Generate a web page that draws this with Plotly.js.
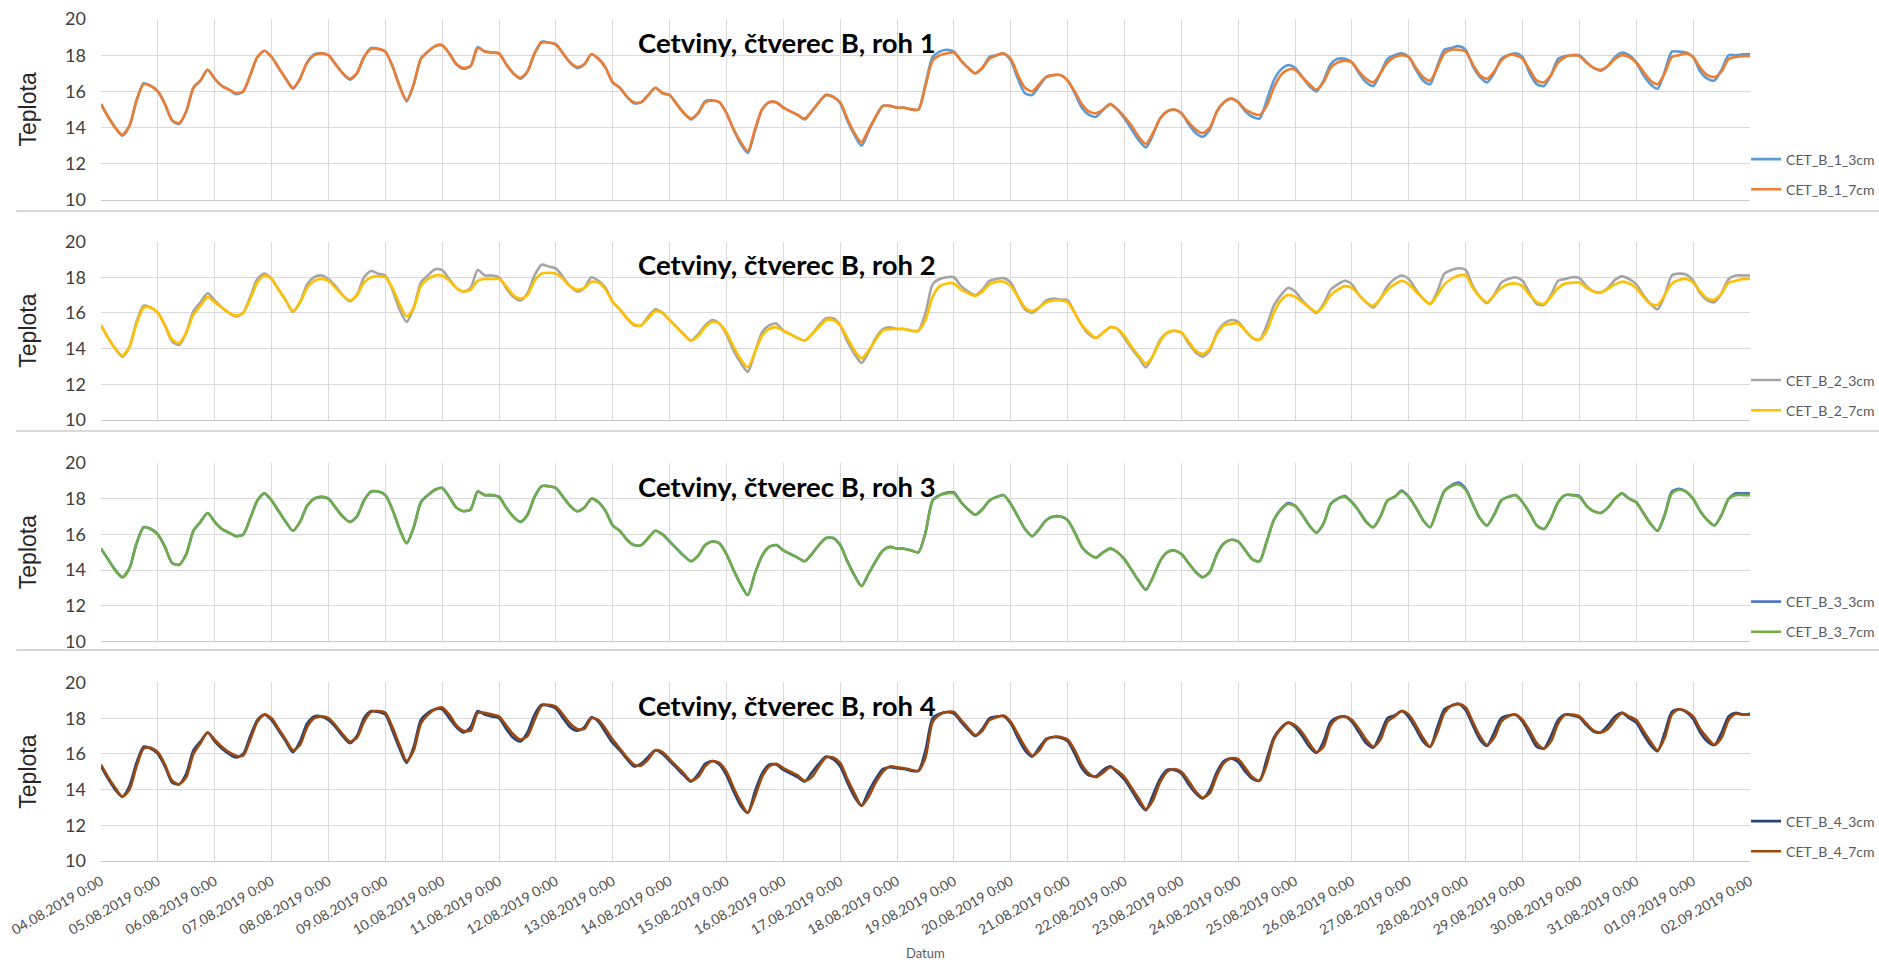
<!DOCTYPE html>
<html><head><meta charset="utf-8">
<script src="https://cdn.plot.ly/plotly-3.0.1.min.js"></script>
<style>html,body{margin:0;padding:0;background:#fff}#chart{width:1879px;height:963px}</style>
</head><body><div id="chart"></div>
<script>
// ---- data: 3-hourly readings from 04.08.2019 0:00 to 02.09.2019 0:00 ----
const startDate = Date.UTC(2019, 7, 4, 0, 0);
const stepHours = 3;
const dayCount = 29;

const panelTitles = ["Cetviny, čtverec B, roh 1", "Cetviny, čtverec B, roh 2", "Cetviny, čtverec B, roh 3", "Cetviny, čtverec B, roh 4"];
const seriesNames = [["CET_B_1_3cm", "CET_B_1_7cm"], ["CET_B_2_3cm", "CET_B_2_7cm"], ["CET_B_3_3cm", "CET_B_3_7cm"], ["CET_B_4_3cm", "CET_B_4_7cm"]];
const seriesColors = [["#5B9BD5", "#ED7D31"], ["#A5A5A5", "#FFC000"], ["#4472C4", "#70AD47"], ["#264478", "#9E480E"]];
const yAxisTitle = "Teplota";
const xAxisTitle = "Datum";

const b1_3cm = [
15.3,14.6,14.0,13.55,14.1,15.5,16.45,16.3,
16.0,15.3,14.4,14.2,14.9,16.2,16.6,17.2,
16.7,16.3,16.1,15.85,16.0,16.9,17.9,18.25,
17.9,17.3,16.7,16.15,16.7,17.6,18.05,18.1,
18.0,17.5,17.0,16.65,17.0,17.9,18.4,18.35,
18.2,17.4,16.3,15.45,16.4,17.8,18.2,18.5,
18.55,18.1,17.5,17.25,17.4,18.45,18.2,18.15,
18.1,17.5,17.0,16.7,17.1,18.1,18.75,18.7,
18.6,18.1,17.6,17.3,17.5,18.05,17.8,17.3,
16.5,16.2,15.7,15.35,15.4,15.8,16.2,15.9,
15.8,15.3,14.8,14.45,14.8,15.45,15.5,15.4,
14.8,13.9,13.1,12.6,13.8,15.0,15.4,15.4,
15.1,14.9,14.7,14.45,14.9,15.4,15.8,15.7,
15.35,14.4,13.6,13.0,13.8,14.6,15.2,15.2,
15.1,15.1,15.0,15.0,16.4,17.9,18.2,18.3,
18.2,17.7,17.3,17.0,17.3,17.9,18.0,18.1,
17.7,16.7,15.9,15.8,16.3,16.8,16.9,16.9,
16.6,15.9,15.1,14.7,14.6,15.0,15.3,15.0,
14.5,13.9,13.3,12.9,13.6,14.5,14.9,15.0,
14.8,14.2,13.7,13.5,13.9,14.9,15.4,15.6,
15.4,14.9,14.6,14.5,15.5,16.6,17.2,17.45,
17.3,16.8,16.3,16.0,16.6,17.5,17.8,17.8,
17.6,17.0,16.5,16.3,17.0,17.8,18.0,18.1,
17.9,17.2,16.6,16.4,17.4,18.3,18.4,18.5,
18.3,17.4,16.8,16.5,17.0,17.8,18.0,18.1,
17.9,17.0,16.4,16.3,16.9,17.8,17.95,18.0,
18.0,17.6,17.3,17.15,17.4,17.9,18.15,18.0,
17.6,16.9,16.4,16.15,17.1,18.2,18.2,18.15,
17.9,17.1,16.7,16.6,17.2,18.0,18.0,18.05,
18.05];

const b1_7cm = [
15.3,14.6,14.0,13.6,14.1,15.5,16.4,16.3,
16.0,15.3,14.4,14.25,14.9,16.2,16.6,17.2,
16.7,16.3,16.1,15.9,16.0,16.9,17.9,18.25,
17.9,17.3,16.7,16.2,16.7,17.6,18.0,18.1,
18.0,17.5,17.0,16.7,17.0,17.9,18.35,18.35,
18.2,17.4,16.3,15.5,16.4,17.8,18.2,18.5,
18.55,18.1,17.5,17.3,17.4,18.4,18.2,18.15,
18.1,17.5,17.0,16.75,17.1,18.1,18.7,18.7,
18.6,18.1,17.6,17.35,17.5,18.05,17.8,17.3,
16.5,16.2,15.7,15.4,15.4,15.8,16.2,15.9,
15.8,15.3,14.8,14.5,14.8,15.4,15.5,15.4,
14.8,13.9,13.2,12.7,13.9,15.0,15.4,15.4,
15.1,14.9,14.7,14.5,14.9,15.4,15.8,15.7,
15.4,14.5,13.7,13.2,13.9,14.6,15.2,15.2,
15.1,15.1,15.0,15.0,16.3,17.7,18.0,18.1,
18.15,17.7,17.3,17.0,17.3,17.8,18.0,18.1,
17.8,16.9,16.2,16.0,16.4,16.8,16.9,16.9,
16.6,16.0,15.3,14.9,14.8,15.0,15.3,15.0,
14.6,14.1,13.5,13.1,13.7,14.5,14.9,15.0,
14.8,14.3,13.9,13.7,14.0,14.9,15.4,15.6,
15.4,15.0,14.8,14.7,15.2,16.2,16.9,17.2,
17.2,16.8,16.4,16.1,16.5,17.3,17.6,17.7,
17.6,17.1,16.7,16.5,17.0,17.6,17.9,18.0,
17.9,17.3,16.8,16.6,17.3,18.1,18.3,18.3,
18.2,17.5,16.9,16.7,17.1,17.7,18.0,18.0,
17.8,17.2,16.6,16.5,16.9,17.6,17.9,18.0,
17.95,17.6,17.3,17.2,17.4,17.8,18.0,17.9,
17.6,17.1,16.6,16.4,17.0,17.9,18.0,18.1,
17.9,17.3,16.9,16.8,17.1,17.8,17.9,17.95,
17.95];

const b2_3cm = [
15.3,14.6,14.0,13.55,14.1,15.5,16.4,16.3,
16.0,15.3,14.4,14.2,14.9,16.1,16.6,17.1,
16.7,16.3,16.0,15.8,16.0,16.9,17.9,18.2,
17.9,17.3,16.7,16.05,16.6,17.6,18.0,18.1,
17.9,17.5,17.0,16.65,17.0,18.0,18.35,18.2,
18.1,17.3,16.2,15.5,16.3,17.7,18.1,18.45,
18.4,17.9,17.4,17.2,17.4,18.4,18.1,18.1,
18.0,17.4,16.9,16.7,17.1,18.1,18.7,18.6,
18.5,18.0,17.5,17.2,17.4,18.0,17.8,17.4,
16.6,16.2,15.7,15.3,15.3,15.8,16.2,16.0,
15.6,15.2,14.8,14.45,14.8,15.3,15.6,15.4,
14.8,13.9,13.2,12.7,13.8,14.9,15.3,15.4,
15.0,14.8,14.6,14.45,14.8,15.3,15.7,15.7,
15.3,14.4,13.7,13.2,13.8,14.6,15.1,15.2,
15.1,15.1,15.0,15.0,16.0,17.6,17.9,18.0,
18.0,17.5,17.2,17.0,17.3,17.8,17.9,17.95,
17.7,16.9,16.2,16.0,16.3,16.7,16.8,16.75,
16.7,16.0,15.3,14.8,14.6,14.9,15.2,15.1,
14.6,14.0,13.5,12.95,13.6,14.5,14.9,15.0,
14.9,14.3,13.8,13.55,13.9,14.9,15.4,15.6,
15.5,15.0,14.6,14.5,15.3,16.4,17.0,17.4,
17.2,16.7,16.3,16.0,16.5,17.3,17.6,17.8,
17.6,17.0,16.6,16.3,16.8,17.5,17.9,18.1,
17.9,17.3,16.8,16.5,17.2,18.2,18.4,18.5,
18.4,17.5,16.9,16.55,17.0,17.7,17.9,18.0,
17.8,17.1,16.5,16.45,17.0,17.8,17.9,18.0,
17.95,17.5,17.2,17.15,17.4,17.85,18.05,17.9,
17.6,17.0,16.5,16.2,17.0,18.1,18.2,18.15,
17.8,17.1,16.7,16.6,17.1,17.9,18.1,18.1,
18.1];

const b2_7cm = [
15.3,14.6,14.0,13.6,14.1,15.4,16.3,16.3,
16.0,15.3,14.5,14.3,14.9,15.9,16.4,16.9,
16.6,16.3,16.0,15.85,16.0,16.8,17.7,18.1,
17.9,17.3,16.7,16.1,16.6,17.4,17.8,17.9,
17.8,17.4,17.0,16.7,17.0,17.7,18.0,18.05,
18.0,17.4,16.5,15.8,16.3,17.5,17.9,18.1,
18.1,17.8,17.4,17.2,17.3,17.8,17.9,17.9,
17.9,17.5,17.0,16.8,17.0,17.8,18.2,18.25,
18.2,17.9,17.5,17.3,17.4,17.75,17.7,17.3,
16.6,16.2,15.7,15.35,15.3,15.7,16.1,16.0,
15.6,15.2,14.8,14.45,14.7,15.2,15.5,15.4,
14.9,14.1,13.4,12.95,13.8,14.7,15.1,15.2,
15.0,14.8,14.6,14.45,14.8,15.2,15.6,15.6,
15.3,14.6,13.9,13.45,13.9,14.5,15.0,15.1,
15.1,15.1,15.0,15.0,15.6,16.9,17.5,17.65,
17.65,17.3,17.1,16.95,17.2,17.6,17.75,17.75,
17.5,16.9,16.3,16.1,16.3,16.6,16.7,16.7,
16.6,16.0,15.3,14.9,14.6,14.9,15.2,15.1,
14.7,14.1,13.6,13.15,13.6,14.4,14.9,15.0,
14.9,14.4,13.9,13.7,14.0,14.8,15.3,15.4,
15.4,15.0,14.6,14.5,15.0,16.0,16.7,17.0,
16.9,16.6,16.3,16.05,16.4,17.0,17.3,17.5,
17.4,17.0,16.6,16.4,16.8,17.3,17.6,17.8,
17.6,17.2,16.8,16.5,17.0,17.6,17.9,18.1,
18.1,17.4,16.9,16.6,17.0,17.4,17.6,17.65,
17.5,17.0,16.6,16.5,16.9,17.4,17.65,17.7,
17.7,17.4,17.2,17.15,17.35,17.6,17.75,17.65,
17.4,16.9,16.5,16.45,17.0,17.65,17.85,17.9,
17.7,17.2,16.8,16.75,17.1,17.7,17.8,17.9,
17.9];

const b3_3cm = [
15.2,14.6,14.0,13.6,14.1,15.5,16.4,16.3,
16.0,15.3,14.4,14.3,14.9,16.2,16.7,17.2,
16.7,16.3,16.1,15.9,16.0,16.9,17.9,18.3,
17.9,17.3,16.7,16.2,16.7,17.6,18.0,18.1,
18.0,17.5,17.0,16.7,17.0,17.9,18.4,18.4,
18.2,17.4,16.3,15.5,16.4,17.8,18.2,18.5,
18.6,18.1,17.5,17.3,17.4,18.4,18.2,18.2,
18.1,17.5,17.0,16.7,17.1,18.1,18.7,18.7,
18.6,18.1,17.6,17.3,17.5,18.0,17.8,17.3,
16.5,16.2,15.7,15.4,15.4,15.8,16.2,16.0,
15.6,15.2,14.8,14.5,14.8,15.4,15.6,15.5,
14.9,14.0,13.2,12.6,13.8,14.8,15.3,15.4,
15.1,14.9,14.7,14.5,14.9,15.4,15.8,15.8,
15.4,14.5,13.7,13.1,13.8,14.5,15.1,15.3,
15.2,15.2,15.1,15.0,16.1,17.9,18.2,18.35,
18.35,17.8,17.4,17.1,17.4,17.9,18.1,18.2,
17.7,17.0,16.3,15.9,16.3,16.8,17.0,17.0,
16.8,16.1,15.3,14.9,14.7,15.0,15.2,15.0,
14.6,14.0,13.4,12.9,13.6,14.5,15.0,15.1,
14.9,14.4,13.9,13.6,13.9,14.9,15.5,15.7,
15.6,15.1,14.6,14.5,15.6,16.8,17.4,17.75,
17.6,17.1,16.5,16.1,16.6,17.7,18.0,18.15,
17.8,17.3,16.7,16.4,17.0,17.9,18.1,18.45,
18.1,17.5,16.8,16.4,17.4,18.45,18.75,18.9,
18.55,17.7,16.9,16.5,17.1,17.9,18.1,18.2,
17.8,17.2,16.5,16.3,16.9,17.8,18.2,18.2,
18.15,17.6,17.3,17.2,17.5,18.0,18.3,18.0,
17.8,17.2,16.6,16.2,17.1,18.4,18.55,18.4,
18.0,17.3,16.8,16.5,17.1,18.0,18.3,18.3,
18.3];

const b3_7cm = [
15.2,14.6,14.0,13.6,14.1,15.5,16.4,16.3,
16.0,15.3,14.4,14.3,14.9,16.2,16.7,17.2,
16.7,16.3,16.1,15.9,16.0,16.9,17.9,18.3,
17.9,17.3,16.7,16.2,16.7,17.6,18.0,18.1,
18.0,17.5,17.0,16.7,17.0,17.9,18.4,18.4,
18.2,17.4,16.3,15.5,16.4,17.8,18.2,18.5,
18.6,18.1,17.5,17.3,17.4,18.4,18.2,18.2,
18.1,17.5,17.0,16.7,17.1,18.1,18.7,18.7,
18.6,18.1,17.6,17.3,17.5,18.0,17.8,17.3,
16.5,16.2,15.7,15.4,15.4,15.8,16.2,16.0,
15.6,15.2,14.8,14.5,14.8,15.4,15.6,15.5,
14.9,14.0,13.2,12.6,13.8,14.8,15.3,15.4,
15.1,14.9,14.7,14.5,14.9,15.4,15.8,15.8,
15.4,14.5,13.7,13.1,13.8,14.5,15.1,15.3,
15.2,15.2,15.1,15.0,16.1,17.9,18.2,18.3,
18.3,17.8,17.4,17.1,17.4,17.9,18.1,18.2,
17.7,17.0,16.3,15.9,16.3,16.8,17.0,17.0,
16.8,16.1,15.3,14.9,14.7,15.0,15.2,15.0,
14.6,14.0,13.4,12.9,13.6,14.5,15.0,15.1,
14.9,14.4,13.9,13.6,13.9,14.9,15.5,15.7,
15.6,15.1,14.6,14.5,15.6,16.8,17.4,17.7,
17.6,17.1,16.5,16.1,16.6,17.7,18.0,18.1,
17.8,17.3,16.7,16.4,17.0,17.9,18.1,18.4,
18.1,17.5,16.8,16.4,17.4,18.4,18.7,18.8,
18.5,17.7,16.9,16.5,17.1,17.9,18.1,18.2,
17.8,17.2,16.5,16.3,16.9,17.8,18.2,18.2,
18.1,17.6,17.3,17.2,17.5,18.0,18.3,18.0,
17.8,17.2,16.6,16.2,17.1,18.3,18.5,18.4,
18.0,17.3,16.8,16.5,17.1,18.0,18.2,18.2,
18.2];

const b4_3cm = [
15.3,14.6,14.0,13.6,14.2,15.5,16.4,16.3,
16.0,15.3,14.4,14.3,14.9,16.2,16.7,17.2,
16.7,16.3,16.0,15.8,16.0,17.0,17.9,18.2,
17.9,17.3,16.7,16.1,16.7,17.7,18.1,18.1,
17.9,17.5,17.0,16.6,17.0,18.0,18.4,18.35,
18.2,17.3,16.3,15.5,16.4,17.9,18.3,18.5,
18.5,18.0,17.5,17.2,17.5,18.4,18.2,18.1,
18.0,17.4,16.9,16.7,17.2,18.2,18.75,18.7,
18.55,18.0,17.5,17.3,17.5,18.05,17.8,17.2,
16.6,16.2,15.7,15.3,15.45,15.85,16.2,16.0,
15.6,15.2,14.8,14.45,14.85,15.45,15.6,15.4,
14.8,13.9,13.1,12.7,13.9,14.9,15.4,15.4,
15.1,14.9,14.7,14.45,14.95,15.45,15.85,15.7,
15.3,14.4,13.6,13.1,13.9,14.6,15.15,15.25,
15.2,15.15,15.05,15.05,16.2,18.0,18.25,18.35,
18.25,17.8,17.35,17.0,17.4,18.0,18.1,18.1,
17.7,16.9,16.2,15.85,16.35,16.85,16.95,16.9,
16.7,16.0,15.2,14.8,14.75,15.1,15.3,14.95,
14.55,13.95,13.3,12.85,13.7,14.6,15.1,15.1,
14.9,14.3,13.8,13.5,14.0,15.0,15.6,15.75,
15.55,15.0,14.6,14.5,15.7,16.9,17.45,17.75,
17.5,17.0,16.4,16.05,16.7,17.8,18.05,18.1,
17.8,17.2,16.6,16.35,17.1,18.0,18.15,18.4,
18.05,17.4,16.7,16.4,17.5,18.5,18.7,18.8,
18.45,17.6,16.8,16.45,17.2,18.0,18.15,18.2,
17.8,17.1,16.4,16.3,17.0,17.9,18.2,18.15,
18.05,17.6,17.25,17.2,17.6,18.1,18.3,18.0,
17.75,17.1,16.5,16.15,17.2,18.35,18.5,18.35,
17.95,17.2,16.7,16.5,17.2,18.1,18.3,18.2,
18.25];

const b4_7cm = [
15.4,14.7,14.1,13.6,14.0,15.3,16.3,16.35,
16.1,15.4,14.5,14.3,14.7,16.0,16.6,17.2,
16.8,16.4,16.1,15.9,15.9,16.8,17.8,18.2,
18.0,17.4,16.8,16.2,16.5,17.5,18.0,18.1,
18.0,17.6,17.1,16.7,16.9,17.8,18.35,18.4,
18.3,17.5,16.5,15.6,16.2,17.7,18.2,18.5,
18.6,18.2,17.6,17.3,17.3,18.3,18.3,18.2,
18.1,17.6,17.1,16.8,17.0,17.9,18.7,18.75,
18.65,18.2,17.7,17.4,17.4,18.0,17.9,17.4,
16.8,16.3,15.8,15.4,15.35,15.7,16.2,16.1,
15.7,15.3,14.9,14.5,14.7,15.3,15.6,15.5,
15.0,14.1,13.3,12.7,13.6,14.7,15.3,15.45,
15.2,15.0,14.8,14.5,14.7,15.3,15.8,15.8,
15.5,14.6,13.8,13.1,13.6,14.4,15.0,15.3,
15.25,15.2,15.1,15.05,15.8,17.8,18.2,18.35,
18.35,17.9,17.45,17.05,17.3,17.9,18.05,18.15,
17.8,17.1,16.4,15.9,16.2,16.8,16.95,16.95,
16.8,16.2,15.4,14.9,14.7,14.95,15.25,15.05,
14.7,14.1,13.5,12.9,13.4,14.4,15.0,15.15,
15.0,14.5,13.9,13.55,13.8,14.8,15.5,15.75,
15.7,15.2,14.7,14.5,15.4,16.8,17.4,17.75,
17.6,17.2,16.6,16.1,16.4,17.6,18.0,18.1,
17.9,17.4,16.8,16.4,16.8,17.8,18.1,18.4,
18.2,17.6,16.9,16.4,17.2,18.3,18.7,18.8,
18.6,17.8,17.0,16.5,16.9,17.8,18.1,18.2,
17.9,17.3,16.6,16.3,16.7,17.7,18.2,18.2,
18.1,17.7,17.3,17.2,17.4,17.9,18.3,18.1,
17.9,17.3,16.7,16.2,16.9,18.2,18.5,18.4,
18.1,17.4,16.9,16.5,16.9,17.9,18.25,18.2,
18.2];

const panelSeries = [[b1_3cm, b1_7cm], [b2_3cm, b2_7cm], [b3_3cm, b3_7cm], [b4_3cm, b4_7cm]];

// ---- time axis ----
function fmt(ms) {
  return new Date(ms).toISOString().slice(0, 16).replace('T', ' ');
}
const times = b1_3cm.map((_, i) => fmt(startDate + i * stepHours * 3600000));
const tickVals = [], tickText = [];
for (let d = 0; d <= dayCount; d++) {
  const dt = new Date(startDate + d * 86400000);
  tickVals.push(fmt(dt.getTime()));
  const dd = String(dt.getUTCDate()).padStart(2, '0');
  const mm = String(dt.getUTCMonth() + 1).padStart(2, '0');
  tickText.push(dd + '.' + mm + '.' + dt.getUTCFullYear() + ' 0:00');
}

// ---- layout geometry ----
const domains = [[0.7850, 1.0], [0.5238, 0.7357], [0.2607, 0.4727], [0.0, 0.2120]];
const legendY = [0.8153, 0.5529, 0.2898, 0.0291];
const sepY = [0.772, 0.5107, 0.2506];
const gridC = '#d9d9d9';

const traces = [];
const layout = {
  width: 1879, height: 963,
  margin: {l: 101, r: 129, t: 19, b: 102, autoexpand: false},
  paper_bgcolor: '#fff', plot_bgcolor: '#fff',
  showlegend: true,
  font: {family: 'Lato, "Liberation Sans", sans-serif', color: '#595959'},
  annotations: [], shapes: []
};

for (let p = 0; p < 4; p++) {
  const sfx = p === 0 ? '' : String(p + 1);
  const lg = 'legend' + sfx;
  for (let s = 0; s < 2; s++) {
    traces.push({
      type: 'scatter', mode: 'lines',
      x: times, y: panelSeries[p][s],
      name: seriesNames[p][s],
      xaxis: 'x' + sfx, yaxis: 'y' + sfx,
      legend: lg, legendgroup: seriesNames[p][s],
      line: {color: seriesColors[p][s], width: 2.6, shape: 'spline', smoothing: 0.7},
      hoverinfo: 'x+y+name'
    });
  }
  layout['xaxis' + sfx] = {
    domain: [0, 1], anchor: 'y' + sfx,
    type: 'date', range: [tickVals[0], tickVals[tickVals.length - 1]],
    tickmode: 'array', tickvals: tickVals, ticktext: tickText,
    showticklabels: p === 3, tickangle: -30,
    tickfont: {size: 14, color: '#505050', family: 'Lato, sans-serif'},
    ticklabelstandoff: 6,
    showgrid: true, gridcolor: gridC, gridwidth: 1,
    showline: true, linecolor: '#c8c8c8', linewidth: 1,
    zeroline: false, ticks: '', fixedrange: true
  };
  layout['yaxis' + sfx] = {
    domain: domains[p], anchor: 'x' + sfx,
    range: [10, 20], dtick: 2, tick0: 10,
    tickfont: {size: 18, color: '#404040', family: 'Lato, sans-serif'},
    ticklabelstandoff: 14,
    showgrid: true, gridcolor: gridC, gridwidth: 1,
    showline: false, zeroline: false, ticks: '', fixedrange: true
  };
  layout[lg] = {
    x: 0.9976, xanchor: 'left', y: legendY[p], yanchor: 'middle',
    bgcolor: 'rgba(0,0,0,0)', borderwidth: 0,
    font: {size: 14, color: '#595959', family: 'Lato, sans-serif'},
    itemwidth: 30, tracegroupgap: 9, traceorder: 'grouped'
  };
  layout.annotations.push({
    xref: 'paper', yref: 'y' + sfx + ' domain', x: 0.4160, y: 0.869,
    xanchor: 'center', yanchor: 'middle', showarrow: false,
    text: '<b>' + panelTitles[p] + '</b>',
    font: {size: 27.5, color: '#000', family: 'Lato, sans-serif'}
  });
  layout.annotations.push({
    xref: 'paper', yref: 'y' + sfx + ' domain', x: -0.0443, y: 0.5,
    xanchor: 'center', yanchor: 'middle', showarrow: false, textangle: -90,
    text: yAxisTitle,
    font: {size: 23, color: '#262626', family: '"Liberation Sans", Arial, sans-serif'}
  });
}
for (const yy of sepY) {
  layout.shapes.push({type: 'line', xref: 'paper', yref: 'paper', x0: -0.0515, x1: 1.08, y0: yy, y1: yy,
    line: {color: '#d9d9d9', width: 2}});
}
layout.annotations.push({
  xref: 'paper', yref: 'paper', x: 0.5, y: -0.1093, xanchor: 'center', yanchor: 'middle',
  showarrow: false, text: xAxisTitle, font: {size: 13, color: '#595959', family: 'Lato, sans-serif'}
});

Plotly.newPlot('chart', traces, layout, {displayModeBar: false, staticPlot: true});
</script>
</body></html>
